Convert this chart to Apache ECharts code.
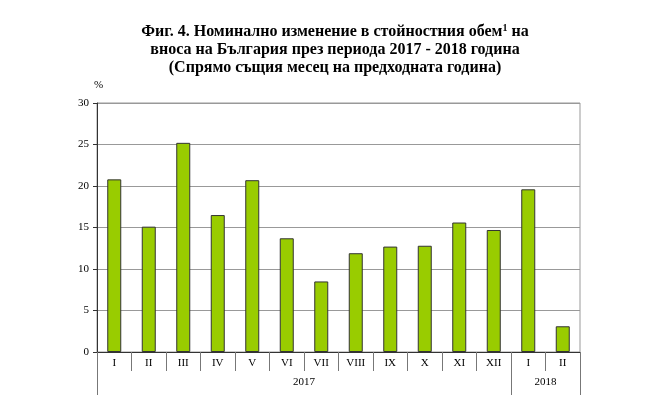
<!DOCTYPE html>
<html>
<head>
<meta charset="utf-8">
<script src="https://cdn.jsdelivr.net/npm/echarts@6/dist/echarts.min.js"></script>
<style>
  html, body { margin: 0; padding: 0; background: #fff; }
  #chart { width: 670px; height: 399px; }
</style>
</head>
<body>
<div id="chart"></div>
<script>
// месеци и стойности (%)
const months = ['I', 'II', 'III', 'IV', 'V', 'VI', 'VII', 'VIII', 'IX', 'X', 'XI', 'XII', 'I', 'II']
const values = [20.8, 15.1, 25.2, 16.5, 20.7, 13.7, 8.5, 11.9, 12.7, 12.8, 15.6, 14.7, 19.6, 3.1]
// година – точки по границите на месеците (15 граници)
const yearPoints = ['', '', '', '', '', '', '2017', '', '', '', '', '', '', '2018', '']
const yearBreaks = [0, 12, 14]

const FONT = '"Liberation Serif", "DejaVu Serif", serif'
const chart = echarts.init(document.getElementById('chart'))

chart.setOption({
  animation: false,
  backgroundColor: '#fff',
  title: {
    left: 'center', top: 18,
    text: '{b|Фиг. 4. Номинално изменение в стойностния обем}{s|1}{b| на}\n' +
          '{b|вноса на България през периода 2017 - 2018 година}\n' +
          '{b|(Спрямо същия месец на предходната година)}',
    textStyle: {
      fontFamily: FONT, fontWeight: 'bold', fontSize: 16, color: '#000', lineHeight: 18,
      rich: {
        b: { fontFamily: FONT, fontWeight: 'bold', fontSize: 16, color: '#000', lineHeight: 18 },
        s: { fontFamily: FONT, fontWeight: 'bold', fontSize: 10, color: '#000', verticalAlign: 'top', lineHeight: 18, padding: [0, 0, 7, 0] }
      }
    }
  },
  grid: {
    left: 97, right: 90, top: 103, bottom: 47,
    show: true, borderColor: '#999', borderWidth: 1
  },
  xAxis: [
    {
      type: 'category', data: months, position: 'bottom',
      axisLine: { lineStyle: { color: '#333' } },
      axisTick: { show: true, interval: 0, length: 19, lineStyle: { color: '#777' } },
      axisLabel: { interval: 0, fontFamily: FONT, fontSize: 11, color: '#000', margin: 6 }
    },
    {
      type: 'category', data: yearPoints, position: 'bottom', offset: 19,
      boundaryGap: false,
      axisLine: { show: false },
      axisTick: {
        show: true, length: 24, lineStyle: { color: '#777' },
        interval: (i) => yearBreaks.includes(i)
      },
      axisLabel: { interval: 0, fontFamily: FONT, fontSize: 11, color: '#000', margin: 6 }
    }
  ],
  yAxis: {
    type: 'value', min: 0, max: 30, interval: 5,
    name: '%', nameLocation: 'end', nameGap: 12,
    nameTextStyle: { fontFamily: FONT, fontSize: 11, color: '#000', align: 'center', padding: [0, 0, 0, 3] },
    axisLine: { show: true, lineStyle: { color: '#333' } },
    axisTick: { show: true, length: 4, lineStyle: { color: '#333' } },
    axisLabel: { fontFamily: FONT, fontSize: 11, color: '#000', margin: 8 },
    splitLine: { lineStyle: { color: '#999', width: 1 } }
  },
  series: [{
    type: 'bar', xAxisIndex: 0, data: values, barWidth: 14,
    itemStyle: { color: '#99cc00', borderColor: '#333', borderWidth: 1 }
  }]
})
</script>
</body>
</html>
